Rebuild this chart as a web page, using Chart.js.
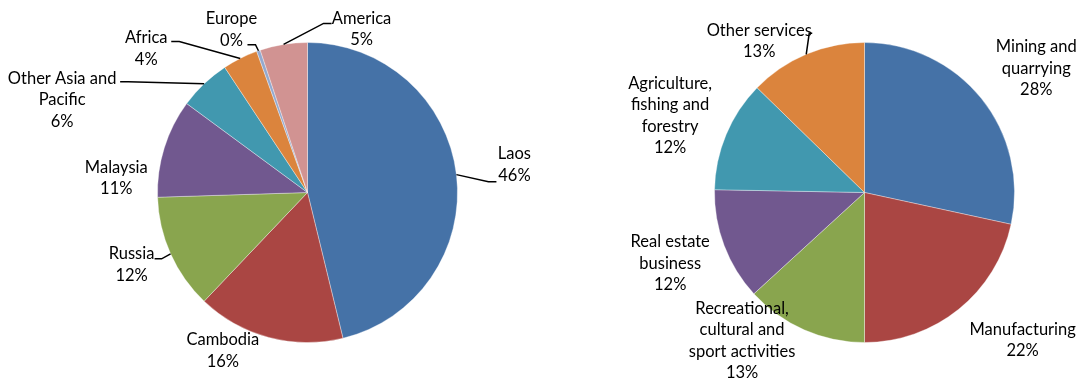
<!DOCTYPE html>
<html>
<head>
<meta charset="utf-8">
<script src="https://cdn.jsdelivr.net/npm/chart.js@4.4.1/dist/chart.umd.min.js"></script>
<style>
  html, body { margin: 0; padding: 0; background: #fff; }
  #wrap { position: relative; width: 1081px; height: 385px; }
  canvas { position: absolute; top: 0; }
  #left { left: 0; }
  #right { left: 560px; }
</style>
</head>
<body>
<div id="wrap">
  <canvas id="left" width="560" height="385"></canvas>
  <canvas id="right" width="521" height="385"></canvas>
</div>
<script>
// Investment shares by origin (left pie)
const countryNames = [
  ['Laos'], ['Cambodia'], ['Russia'], ['Malaysia'],
  ['Other Asia and', 'Pacific'], ['Africa'], ['Europe'], ['America']
];
const countryShares = [46.2, 15.9, 12.4, 10.6, 5.6, 3.8, 0.4, 5.1];
const countryColors = ['#4572A7', '#AA4643', '#89A54E', '#71588F', '#4198AF', '#DB843D', '#93A9CF', '#D19392'];

// Investment shares by sector (right pie)
const sectorNames = [
  ['Mining and', 'quarrying'], ['Manufacturing'],
  ['Recreational,', 'cultural and', 'sport activities'],
  ['Real estate', 'business'],
  ['Agriculture,', 'fishing and', 'forestry'],
  ['Other services']
];
const sectorShares = [28.4, 21.6, 13.2, 12.1, 12.0, 12.7];
const sectorColors = ['#4572A7', '#AA4643', '#89A54E', '#71588F', '#4198AF', '#DB843D'];

// Label placement: offset of the text block from the slice's outer midpoint,
// and optional leader attach point relative to the text block centre.
const countryLabelLayout = [
  { dx: 58, dy: -10, leader: [-18, 17] },
  { dx: -46, dy: 13 },
  { dx: -39, dy: 11, leader: [23, -6], elbow: 7 },
  { dx: -48, dy: 30 },
  { dx: -142, dy: 16, leader: [58, -18] },
  { dx: -94, dy: -10, leader: [25, -7] },
  { dx: -27, dy: -21, leader: [16, 15] },
  { dx: 78, dy: -15, leader: [-30, -6] }
];
const sectorLabelLayout = [
  { dx: 55, dy: -30 },
  { dx: 64, dy: 31 },
  { dx: -62, dy: 11 },
  { dx: -54, dy: 18 },
  { dx: -56, dy: -19 },
  { dx: -47, dy: -13, leader: [53, -8], elbow: 3 }
];

const FONT = '16.5px Lato, "Open Sans", sans-serif';
const LINE_H = 21.5;

const sliceLabels = {
  id: 'sliceLabels',
  afterDatasetsDraw(chart, args, opts) {
    const ctx = chart.ctx;
    const meta = chart.getDatasetMeta(0);
    const data = chart.data.datasets[0].data;
    const total = data.reduce((a, b) => a + b, 0);
    ctx.save();
    ctx.font = FONT;
    ctx.fillStyle = '#000';
    ctx.textAlign = 'center';
    ctx.textBaseline = 'middle';
    meta.data.forEach((arc, i) => {
      const mid = (arc.startAngle + arc.endAngle) / 2;
      const px = arc.x + Math.cos(mid) * arc.outerRadius;
      const py = arc.y + Math.sin(mid) * arc.outerRadius;
      const lay = opts.layout[i];
      const cx = px + lay.dx;
      const cy = py + lay.dy;
      const lines = opts.names[i].concat([Math.round(data[i] / total * 100) + '%']);
      lines.forEach((t, k) => {
        ctx.fillText(t, cx, cy + (k - (lines.length - 1) / 2) * LINE_H);
      });
      if (lay.leader) {
        const ax = cx + lay.leader[0];
        const ay = cy + lay.leader[1];
        const e = lay.elbow !== undefined ? lay.elbow : 8;
        const ex = ax + (px > ax ? e : -e);
        ctx.beginPath();
        ctx.moveTo(ax, ay);
        ctx.lineTo(ex, ay);
        ctx.lineTo(px, py);
        ctx.strokeStyle = '#000';
        ctx.lineWidth = 1.5;
        ctx.stroke();
      }
    });
    ctx.restore();
  }
};

function makePie(id, values, colors, names, layout, padding) {
  return new Chart(document.getElementById(id), {
    type: 'pie',
    data: {
      labels: names.map(n => n.join(' ')),
      datasets: [{
        data: values,
        backgroundColor: colors,
        borderColor: 'rgba(255,255,255,0.35)',
        borderWidth: 1
      }]
    },
    options: {
      responsive: false,
      devicePixelRatio: 1,
      animation: false,
      layout: { padding },
      plugins: {
        legend: { display: false },
        tooltip: { enabled: false },
        sliceLabels: { names, layout }
      }
    },
    plugins: [sliceLabels]
  });
}

makePie('left', countryShares, countryColors, countryNames, countryLabelLayout,
  { left: 157, right: 102, top: 42, bottom: 42 });
makePie('right', sectorShares, sectorColors, sectorNames, sectorLabelLayout,
  { left: 154, right: 66, top: 42, bottom: 42 });
</script>
</body>
</html>
